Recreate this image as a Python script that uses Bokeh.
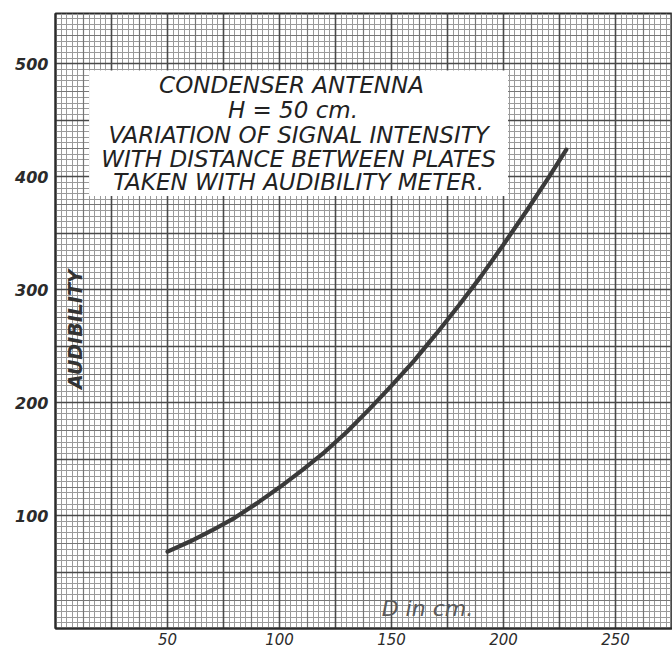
import numpy as np
from bokeh.plotting import figure
from bokeh.models import Range1d, FixedTicker, Grid, BoxAnnotation, Label
from bokeh.embed import file_html
from bokeh.resources import INLINE

# ---- data ----
distance_cm = [50, 60, 70, 80, 90, 100, 110, 120, 130, 140, 150, 160, 170, 180, 190, 200, 210, 220, 228]
audibility = [68, 77, 87, 98, 111, 125, 140, 156, 174, 194, 215, 237, 261, 286, 312, 340, 369, 399, 424]

x_ticks = [50, 100, 150, 200, 250]
y_ticks = [100, 200, 300, 400, 500]

title_lines = [
    "CONDENSER  ANTENNA",
    "H = 50 cm.",
    "VARIATION OF SIGNAL INTENSITY",
    "WITH DISTANCE BETWEEN PLATES",
    "TAKEN WITH AUDIBILITY METER.",
]
x_label = "D in cm."
y_label = "AUDIBILITY"

FONT = "DejaVu Sans"
INK = "#2b2b2b"

p = figure(width=672, height=650, output_backend="svg", toolbar_location=None,
           x_range=Range1d(0, 275.4), y_range=Range1d(0, 544.5),
           min_border_left=55, min_border_right=0, min_border_top=13, min_border_bottom=22)
p.background_fill_color = "white"
p.border_fill_color = "white"
p.outline_line_color = INK
p.outline_line_width = 2

# graph-paper grid: fine, medium and heavy rules
x_fine = list(np.arange(0, 276, 2.5))
y_fine = list(np.arange(0, 545, 5))
x_mid = list(np.arange(12.5, 276, 25))
y_mid = list(np.arange(25, 545, 50))
x_major = list(np.arange(25, 276, 25))
y_major = list(np.arange(50, 545, 50))

p.xgrid.visible = False
p.ygrid.visible = False
for ticks, dim, color, width in [
    (x_fine, 0, "#9a9a9a", 1), (y_fine, 1, "#9a9a9a", 1),
    (x_mid, 0, "#767676", 1.2), (y_mid, 1, "#767676", 1.2),
    (x_major, 0, "#4a4a4a", 1.6), (y_major, 1, "#4a4a4a", 1.6),
]:
    g = Grid(dimension=dim, ticker=FixedTicker(ticks=ticks),
             grid_line_color=color, grid_line_width=width)
    p.add_layout(g)

# axes
for ax, ticks in [(p.xaxis[0], x_ticks), (p.yaxis[0], y_ticks)]:
    ax.ticker = FixedTicker(ticks=ticks)
    ax.major_tick_line_color = None
    ax.minor_tick_line_color = None
    ax.major_tick_out = 0
    ax.major_tick_in = 0
    ax.axis_line_color = INK
    ax.axis_line_width = 2
    ax.major_label_text_font = FONT
    ax.major_label_text_color = INK
p.xaxis.major_label_text_font_size = "15px"
p.xaxis.major_label_text_font_style = "italic"
p.yaxis.major_label_text_font_size = "16px"
p.yaxis.major_label_text_font_style = "bold italic"
p.xaxis.major_label_standoff = 4
p.yaxis.major_label_standoff = 7

# the curve
p.line(distance_cm, audibility, line_color="#3a3a3a", line_width=4.2, line_cap="round")

# title panel
p.add_layout(BoxAnnotation(left=15, right=202, bottom=383, top=494,
                           fill_color="white", fill_alpha=1.0, line_color=None))
title_y = [481, 459, 437, 416, 395.5]
title_x = [107, 106, 108.5, 108.5, 108.5]
for txt, tx, ty in zip(title_lines, title_x, title_y):
    p.add_layout(Label(x=tx, y=ty, text=txt, text_align="center", text_baseline="middle",
                       text_font=FONT, text_font_size="23px", text_font_style="italic",
                       text_color="#222222"))

# axis names drawn on the paper
p.add_layout(Label(x=166, y=17.7, text=x_label, text_align="center", text_baseline="middle",
                   text_font=FONT, text_font_size="22px", text_font_style="italic",
                   text_color="#5a5a5a"))
p.add_layout(Label(x=8.5, y=265, text=y_label, angle=np.pi / 2, text_align="center",
                   text_baseline="middle", text_font=FONT, text_font_size="19px",
                   text_font_style="bold italic", text_color="#333333"))

open("out.html", "w").write(file_html(p, INLINE))
